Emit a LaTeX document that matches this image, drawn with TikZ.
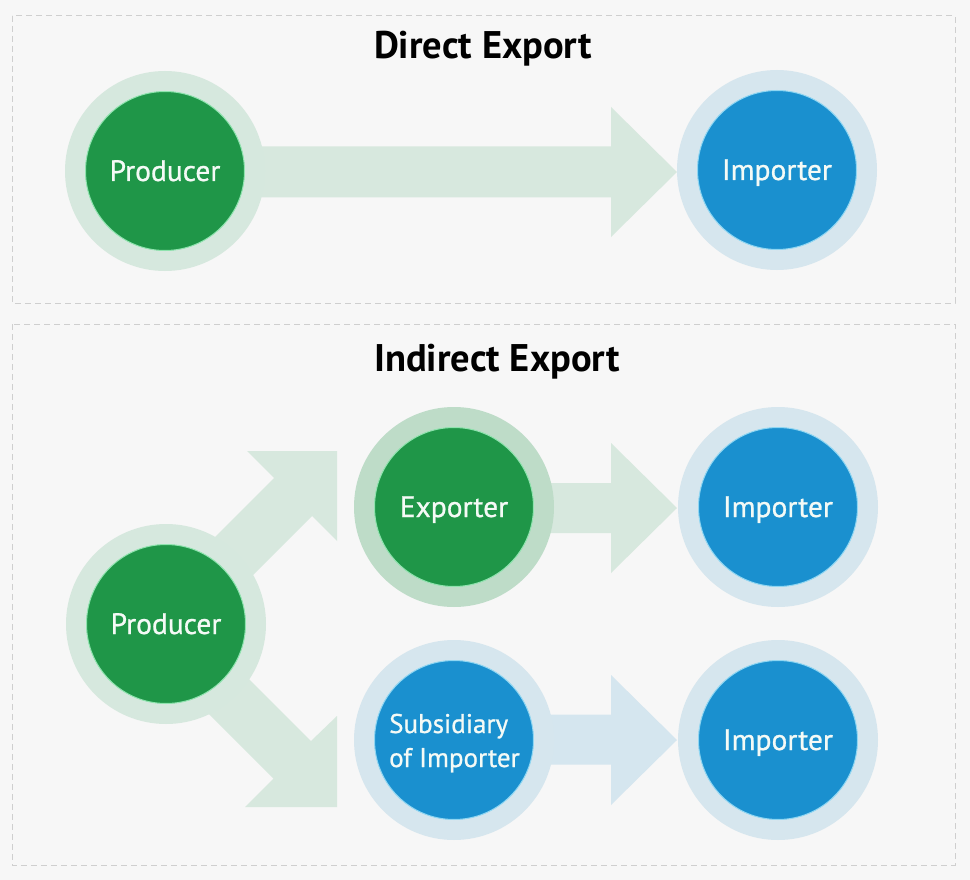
\documentclass[tikz,border=0pt]{standalone}
\usepackage{fontspec}
\setmainfont{PT Sans}
\newfontfamily\nodefont[FakeBold=0.8]{PT Sans}
\definecolor{bg}{HTML}{F7F7F7}
\definecolor{dashgray}{HTML}{CFCFCF}
\definecolor{dgreen}{HTML}{1F9648}
\definecolor{dblue}{HTML}{1A90CF}
\definecolor{ringgreen}{HTML}{D6E8DE}
\definecolor{ringgreenB}{HTML}{BEDCC8}
\definecolor{ringblue}{HTML}{D6E6EE}
\definecolor{arrgreen}{HTML}{D7E8DE}
\definecolor{arrblue}{HTML}{D5E6EF}
\definecolor{edgegreen}{HTML}{8FE3AE}
\definecolor{edgeblue}{HTML}{8FD6F2}
\definecolor{txt}{HTML}{F4FAF6}
\tikzset{
  panel/.style={draw=dashgray, line width=1pt, dash pattern=on 6pt off 4pt},
  ttl/.style={anchor=base, inner sep=0pt, font=\fontsize{38.5}{44}\selectfont\bfseries, text=black},
  ringg/.style={circle, fill=ringgreen, minimum size=200pt, inner sep=0pt},
  ringgb/.style={circle, fill=ringgreenB, minimum size=200pt, inner sep=0pt},
  ringb/.style={circle, fill=ringblue, minimum size=200pt, inner sep=0pt},
  ing/.style={circle, fill=dgreen, draw=edgegreen, line width=1pt, minimum size=159pt, inner sep=0pt,
     text=txt, font=\nodefont\fontsize{29.5}{34}\selectfont, text height=20pt, text depth=0pt},
  inb/.style={circle, fill=dblue, draw=edgeblue, line width=1pt, minimum size=159pt, inner sep=0pt,
     text=txt, font=\nodefont\fontsize{29.5}{34}\selectfont, text height=20pt, text depth=0pt},
  lbl/.style={anchor=base west, inner sep=0pt, text=txt, font=\nodefont\fontsize{27}{34}\selectfont},
  garrow/.style={fill=arrgreen},
  barrow/.style={fill=arrblue}
}
\begin{document}
\begin{tikzpicture}[x=1pt, y=-1pt]
\useasboundingbox (0,0) rectangle (970,880);
\fill[bg] (0,0) rectangle (970,880);
% panels
\draw[panel] (12,16) rectangle (955,303);
\draw[panel] (12,324) rectangle (955,865);
\node[ttl] (t1) at (483,59) {Direct Export};
\node[ttl] (t2) at (497,371) {Indirect Export};

% arrows (direct)
\fill[garrow] (166,146.5) -- (611,146.5) -- (611,107) -- (677,172) -- (611,237) -- (611,197.5) -- (166,197.5) -- cycle;
% arrows (indirect)
\fill[garrow] (150,602) -- (274,478) -- (247,451) -- (337,451) -- (337,541) -- (312,516) -- (190,638) -- cycle;
\fill[garrow] (190,620) -- (311,741) -- (337,716) -- (337,807) -- (245,807) -- (273.5,778.5) -- (140,645) -- cycle;
\fill[garrow] (454,483) -- (611,483) -- (611,443) -- (677,508) -- (611,573) -- (611,533) -- (454,533) -- cycle;
\fill[barrow] (454,714.5) -- (611,714.5) -- (611,675) -- (677,740) -- (611,805) -- (611,764.5) -- (454,764.5) -- cycle;

% direct export nodes
\node[ringg] (p1r) at (165,171) {};
\node[ing] (p1) at (165,171) {Producer};
\node[ringb] (i1r) at (777,170) {};
\node[inb] (i1) at (777,170) {Importer};

% indirect export nodes
\node[ringg] (p2r) at (166,624) {};
\node[ing] (p2) at (166,624) {Producer};
\node[ringgb] (er) at (454,507) {};
\node[ing] (e) at (454,507) {Exporter};
\node[ringb] (i2r) at (778,507) {};
\node[inb] (i2) at (778,507) {Importer};
\node[ringb] (sr) at (454,740) {};
\node[inb] (s) at (454,740) {};
\node[lbl] (s1) at (389,733) {Subsidiary};
\node[lbl] (s2) at (389,767) {of Importer};
\node[ringb] (i3r) at (778,740) {};
\node[inb] (i3) at (778,740) {Importer};
\end{tikzpicture}
\end{document}
